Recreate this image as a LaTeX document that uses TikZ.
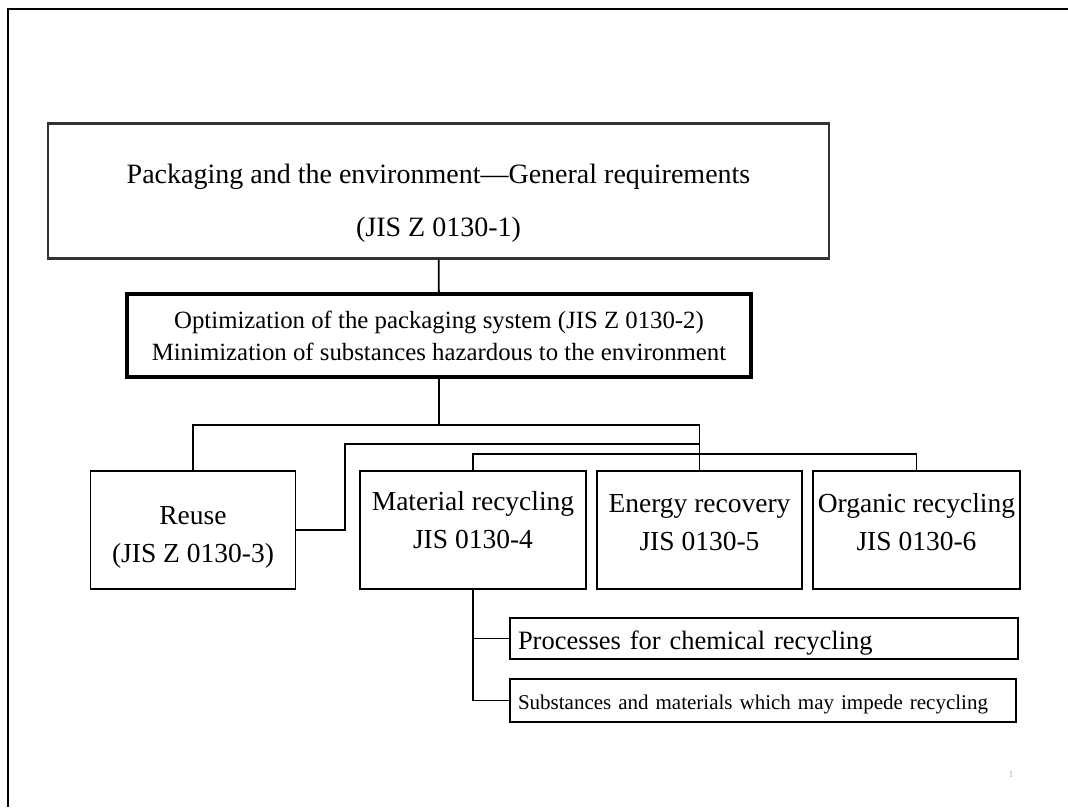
\documentclass[tikz,border=0pt]{standalone}
\usepackage{fontspec}
\setmainfont{Liberation Serif}

\begin{document}
\begin{tikzpicture}[x=1pt,y=-1pt,
  box/.style={draw,line width=1.8pt,inner sep=0pt,align=center},
  mainbox/.style={box,line width=2.2pt,draw=black!80},
  thickbox/.style={box,line width=4.2pt},
  leafbox/.style={box,minimum height=118pt,font=\fontsize{27.5}{38}\selectfont},
  subbox/.style={box,align=left,inner xsep=8pt},
  link/.style={line width=1.8pt}]
\useasboundingbox (0,0) rectangle (1068,807);
\draw[line width=1.6pt] (8,807) -- (8,9) -- (1068,9); % page frame
% boxes
\node[mainbox,minimum width=781,minimum height=135,text height=96pt,font=\fontsize{28}{32}\selectfont] (general) at (438.5,191)
  {Packaging and the environment—General requirements\\[21pt] (JIS Z 0130-1)};
\node[thickbox,minimum width=624,minimum height=83,font=\fontsize{24.8}{32}\selectfont] (optim) at (439,335.5)
  {Optimization of the packaging system (JIS Z 0130-2)\\ Minimization of substances hazardous to the environment};
\node[leafbox,minimum width=205,text height=70pt] (reuse) at (193,530) {Reuse\\ (JIS Z 0130-3)};
\node[leafbox,minimum width=226,text depth=20pt] (material) at (473,530) {Material recycling\\ JIS 0130-4};
\node[leafbox,minimum width=205,text depth=16pt] (energy) at (699.5,530) {Energy recovery\\ JIS 0130-5};
\node[leafbox,minimum width=207,text depth=16pt] (organic) at (916.5,530) {Organic recycling\\ JIS 0130-6};
\node[subbox,text width=492,minimum height=41,text height=27pt,font=\fontsize{26.5}{30}\selectfont] (chem) at (764,638.5)
  {Processes for chemical recycling};
\node[subbox,text width=490,minimum height=43,text height=22pt,font=\fontsize{21}{24}\selectfont] (subst) at (763,700.5)
  {Substances and materials which may impede recycling};
\node[text=black!35,font=\fontsize{9}{9}\selectfont] (pagenum) at (1011,775) {1};
% connectors
\coordinate (busA) at (441,425);
\coordinate (jog) at (345,444);
\coordinate (busC) at (480,454);
\draw[link] (general) -- (optim);
\draw[link] (optim.south) -- (optim.south |- busA);
\draw[link] (reuse.north) |- (energy.north |- busA) -- (energy.north);
\draw[link] (reuse.east) -| (jog) -- (energy.north |- jog);
\draw[link] (material.north) |- (organic.north |- busC) -- (organic.north);
\draw[link] (material.south) |- (chem.west);
\draw[link] (material.south) |- (subst.west);
\end{tikzpicture}
\end{document}
